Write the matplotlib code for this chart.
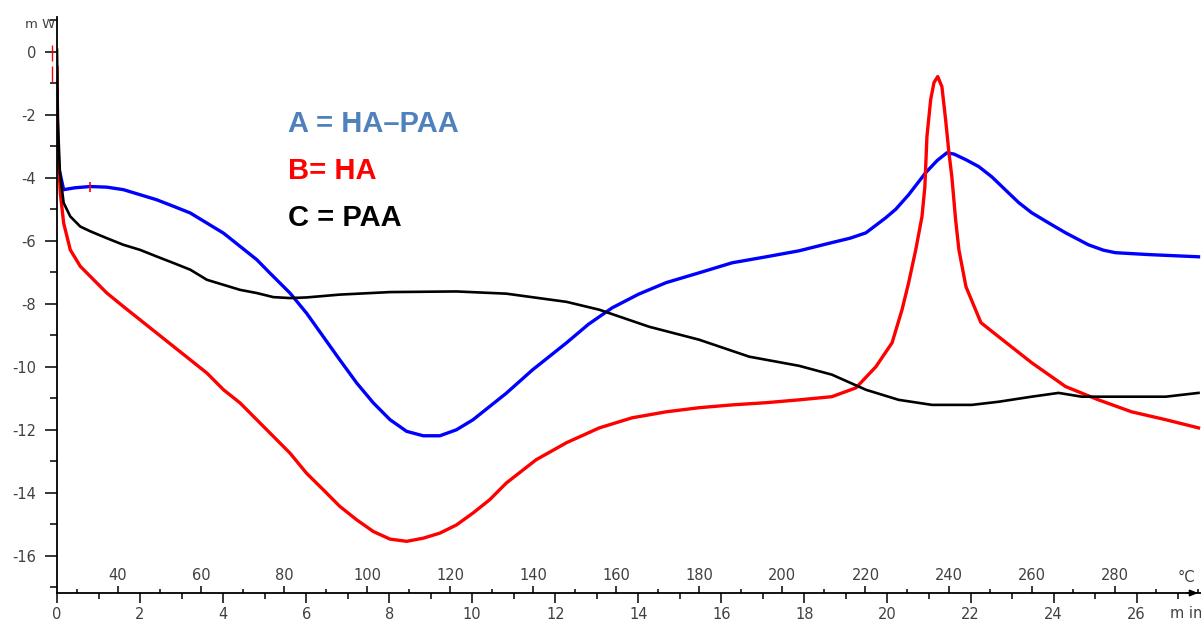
import matplotlib
matplotlib.use("Agg")
import matplotlib.pyplot as plt
from matplotlib.ticker import MultipleLocator, FixedLocator

plt.rcParams["axes.unicode_minus"] = False

# Heat flow (mW) versus time (min)
time_a = [0.07, 0.16, 0.43, 0.80, 1.20, 1.60, 2.00, 2.40, 2.81, 3.21, 3.61, 4.01,
          4.41, 4.81, 5.13, 5.61, 6.01, 6.41, 6.81, 7.22, 7.62, 8.02, 8.42, 8.82,
          9.22, 9.62, 10.02, 10.42, 10.82, 11.45, 12.27, 12.80, 13.37, 14.00, 14.67,
          15.46, 16.26, 17.08, 17.87, 18.66, 19.10, 19.48, 19.96, 20.20, 20.51, 20.92,
          21.20, 21.43, 21.60, 21.89, 22.20, 22.51, 22.85, 23.16, 23.47, 23.90, 24.29,
          24.84, 25.20, 25.49, 26.29, 27.49]
heat_a = [-3.84, -4.38, -4.32, -4.28, -4.30, -4.38, -4.54, -4.70, -4.91, -5.12, -5.44,
          -5.76, -6.18, -6.60, -7.03, -7.66, -8.30, -9.04, -9.78, -10.52, -11.15, -11.68,
          -12.05, -12.19, -12.19, -12.00, -11.68, -11.26, -10.84, -10.10, -9.24, -8.65,
          -8.13, -7.70, -7.33, -7.02, -6.70, -6.51, -6.32, -6.06, -5.92, -5.75, -5.27,
          -5.00, -4.54, -3.84, -3.45, -3.21, -3.25, -3.43, -3.65, -3.97, -4.40, -4.79,
          -5.11, -5.45, -5.75, -6.13, -6.30, -6.38, -6.44, -6.51]

time_b = [0.00, 0.02, 0.08, 0.16, 0.32, 0.56, 0.80, 1.20, 1.60, 2.00, 2.40, 2.81,
          3.21, 3.61, 4.01, 4.41, 4.81, 5.21, 5.61, 6.01, 6.41, 6.81, 7.22, 7.62,
          8.02, 8.42, 8.82, 9.22, 9.62, 10.02, 10.42, 10.82, 11.54, 12.27, 13.06,
          13.85, 14.67, 15.46, 16.26, 17.08, 17.87, 18.66, 19.24, 19.72, 20.11, 20.35,
          20.51, 20.68, 20.83, 20.90, 20.95, 21.04, 21.12, 21.21, 21.31, 21.40, 21.48,
          21.55, 21.64, 21.72, 21.89, 22.25, 22.68, 23.47, 24.29, 25.08, 25.88, 26.70, 27.49]
heat_b = [-0.50, -3.00, -4.49, -5.44, -6.29, -6.81, -7.13, -7.66, -8.09, -8.51, -8.93,
          -9.36, -9.78, -10.20, -10.73, -11.15, -11.68, -12.21, -12.74, -13.38, -13.90,
          -14.43, -14.86, -15.23, -15.47, -15.54, -15.44, -15.28, -15.02, -14.64, -14.22,
          -13.69, -12.95, -12.41, -11.94, -11.62, -11.43, -11.30, -11.21, -11.14, -11.05,
          -10.95, -10.67, -10.00, -9.24, -8.19, -7.33, -6.29, -5.24, -4.29, -2.70, -1.52,
          -0.98, -0.79, -1.11, -2.16, -3.21, -3.97, -5.33, -6.29, -7.46, -8.60, -9.05,
          -9.87, -10.63, -11.05, -11.43, -11.68, -11.94]

time_c = [0.00, 0.02, 0.07, 0.16, 0.32, 0.56, 0.80, 1.20, 1.60, 2.00, 2.40, 2.81,
          3.21, 3.61, 4.01, 4.41, 4.81, 5.21, 5.61, 6.01, 6.81, 8.02, 9.62, 10.82,
          12.27, 13.06, 14.26, 15.46, 16.67, 17.87, 18.66, 19.48, 20.27, 21.07, 22.03,
          22.68, 23.47, 24.12, 24.68, 25.49, 26.70, 27.49]
heat_c = [0.06, -2.16, -3.84, -4.80, -5.23, -5.55, -5.70, -5.92, -6.13, -6.29, -6.50,
          -6.71, -6.92, -7.24, -7.40, -7.56, -7.66, -7.79, -7.82, -7.80, -7.71, -7.63,
          -7.61, -7.68, -7.94, -8.19, -8.73, -9.14, -9.68, -9.97, -10.25, -10.73, -11.05,
          -11.21, -11.21, -11.11, -10.95, -10.83, -10.95, -10.95, -10.95, -10.83]

# Event markers from the instrument software
mark_time = [0.80]
mark_heat = [-4.28]
event_time = [-0.12, -0.12]
event_heat = [-0.05, -0.72]

# Temperature programme: T = T0 + rate * t
temp_start = 25.3
temp_rate = 10.0
temp_ticks = list(range(40, 300, 20))

labels = ["A = HA\u2013PAA", "B= HA", "C = PAA"]
label_colors = ["#4F81BD", "#FF0000", "#000000"]

fig = plt.figure(figsize=(12.01, 6.21), dpi=100)
ax = fig.add_axes([57 / 1201, 28 / 621, 1 - 57 / 1201, (593 - 17) / 621])

ax.plot(time_a, heat_a, color="#0000FF", lw=2.4, solid_joinstyle="round")
ax.plot(time_b, heat_b, color="#FF0000", lw=2.4, solid_joinstyle="round")
ax.plot(time_c, heat_c, color="#000000", lw=1.9, solid_joinstyle="round")
ax.plot(mark_time, mark_heat, ls="none", marker="|", color="#FF0000", ms=7, mew=1.2)
ax.plot(event_time, event_heat, ls="none", marker="|", color="#FF0000", ms=11,
        mew=1.0, clip_on=False)

ax.set_xlim(0, 27.55)
ax.set_ylim(-17.18, 1.1)

for side in ("top", "right"):
    ax.spines[side].set_visible(False)
ax.spines["left"].set_linewidth(1.3)
ax.spines["bottom"].set_linewidth(1.3)

tick_color = "#404040"
ax.yaxis.set_major_locator(MultipleLocator(2))
ax.yaxis.set_minor_locator(FixedLocator(list(range(-17, 2, 2))))
ax.tick_params(axis="y", which="major", length=9, width=1.1, labelsize=10.5,
               labelcolor=tick_color, pad=6)
ax.tick_params(axis="y", which="minor", length=5, width=1.1)

ax.xaxis.set_major_locator(MultipleLocator(2))
ax.xaxis.set_minor_locator(MultipleLocator(1))
ax.tick_params(axis="x", which="major", length=7, width=1.1, labelsize=10.5,
               labelcolor=tick_color, pad=3)
ax.tick_params(axis="x", which="minor", length=4, width=1.1)

# Temperature scale drawn on the time axis, ticks and labels above the line
sec = ax.secondary_xaxis(0.0, functions=(lambda t: temp_start + temp_rate * t,
                                         lambda T: (T - temp_start) / temp_rate))
for sp in sec.spines.values():
    sp.set_visible(False)
sec.set_xticks(temp_ticks)
sec.xaxis.set_minor_locator(MultipleLocator(10))
sec.xaxis.set_ticks_position("top")
sec.tick_params(axis="x", which="major", direction="out", length=5, width=1.1,
                labelsize=10.5, labelcolor=tick_color, pad=2, top=True, bottom=False,
                labeltop=True, labelbottom=False)
sec.tick_params(axis="x", which="minor", direction="out", length=3, width=1.1,
                top=True, bottom=False)

# Axis unit labels
fig.text(25 / 1201, 1 - 25 / 621, "m W", fontsize=9.5, color=tick_color,
         ha="left", va="center")
fig.text(1178 / 1201, 1 - 578 / 621, "\u00b0C", fontsize=10.5, color=tick_color,
         ha="left", va="center")
fig.text(1170 / 1201, 1 - 613 / 621, "m in", fontsize=10.5, color=tick_color,
         ha="left", va="center")

# Arrow tip at the end of the time axis
ax.annotate("", xy=(1.0, 0.0), xycoords="axes fraction", xytext=(0.985, 0.0),
            arrowprops=dict(arrowstyle="-|>,head_length=0.5,head_width=0.2",
                            color="#000000", lw=1.0), annotation_clip=False)

# Sample legend
for i, (txt, col) in enumerate(zip(labels, label_colors)):
    ax.text(288 / 1201, 1 - (124 + 47 * i) / 621, txt, transform=fig.transFigure,
            fontsize=21, fontweight="bold", color=col, ha="left", va="center",
            family=["Liberation Sans", "DejaVu Sans"])

fig.savefig("out.png", dpi=100)
